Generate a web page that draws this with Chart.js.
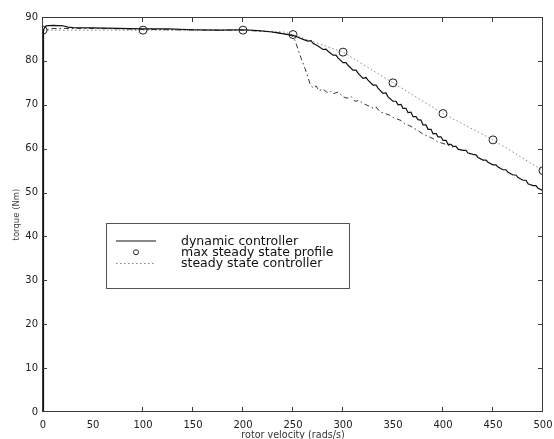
<!DOCTYPE html>
<html>
<head>
<meta charset="utf-8">
<script src="https://cdn.jsdelivr.net/npm/chart.js@4.4.1/dist/chart.umd.min.js"></script>
<style>
html,body{margin:0;padding:0;background:#fff;}
canvas{display:block;}
</style>
</head>
<body>
<canvas id="c" width="554" height="439"></canvas>
<script>
// ---- data ----
const seriesLabels = ['dynamic controller', 'max steady state profile', 'steady state controller'];
const xAxisTitle = 'rotor velocity (rads/s)';
const yAxisTitle = 'torque (Nm)';

const dynamicX = [
  0, 0.5, 3, 10, 20, 25, 30, 50, 75, 100,
  125, 150, 175, 200, 215, 225, 235, 245, 250, 255,
  260, 265, 268, 270, 275, 280, 283, 285, 290, 293,
  295, 300, 303, 305, 310, 313, 315, 320, 323, 325,
  330, 333, 335, 340, 343, 345, 350, 353, 355, 358,
  360, 363, 365, 368, 370, 373, 375, 378, 380, 383,
  385, 388, 390, 393, 395, 398, 400, 403, 405, 408,
  410, 413, 415, 420, 423, 425, 430, 433, 435, 440,
  443, 445, 450, 453, 455, 460, 463, 465, 470, 473,
  475, 480, 483, 485, 490, 493, 495, 500
];
const dynamicY = [
  0, 87.2, 88.0, 88.1, 88.0, 87.7, 87.6, 87.5, 87.4, 87.3,
  87.3, 87.1, 87.0, 87.1, 86.9, 86.7, 86.4, 86.0, 85.8, 85.4,
  84.9, 84.5, 84.6, 84.0, 83.4, 82.6, 82.7, 82.2, 81.3, 81.3,
  80.7, 79.6, 79.6, 79.0, 77.9, 77.9, 77.2, 76.0, 76.2, 75.6,
  74.5, 74.5, 73.8, 72.6, 72.7, 71.8, 70.8, 70.8, 70.0, 70.1,
  69.2, 69.2, 68.2, 68.3, 67.3, 67.3, 66.6, 66.5, 65.4, 65.4,
  64.4, 64.4, 63.4, 63.5, 62.7, 62.7, 61.9, 61.9, 61.0, 61.0,
  60.5, 60.5, 59.9, 59.6, 59.6, 59.0, 58.7, 58.6, 58.0, 57.4,
  57.4, 56.9, 56.3, 56.3, 55.8, 55.2, 55.2, 54.6, 54.0, 54.0,
  53.4, 52.8, 52.8, 52.0, 51.6, 51.6, 51.0, 50.4
];

const profileX = [0, 100, 200, 250, 300, 350, 400, 450, 500];
const profileY = [87, 87, 87, 86, 82, 75, 68, 62, 55];

const steadyX = [0, 50, 100, 150, 200, 240, 250, 300, 350, 400, 450, 500];
const steadyY = [87, 87, 87, 87, 87, 86.6, 86, 82, 75, 68, 62, 55];

const dashX = [
  0, 0.5, 10, 50, 100, 150, 200, 230, 245, 250,
  252, 257, 262, 267, 270, 273, 276, 280, 284, 287,
  290, 295, 300, 304, 308, 312, 316, 320, 325, 330,
  333, 337, 342, 346, 350, 354, 358, 362, 366, 370,
  375, 380, 385, 390, 395, 400, 405, 410
];
const dashY = [
  49, 87.0, 87.4, 87.4, 87.2, 87.0, 87.0, 86.6, 86.0, 85.6,
  84.7, 81.3, 78.3, 74.8, 73.8, 74.3, 73.2, 73.6, 72.8, 73.2,
  72.5, 72.9, 71.8, 71.5, 71.9, 70.8, 71.0, 70.3, 69.8, 69.2,
  69.5, 68.4, 68.0, 67.7, 67.1, 66.8, 66.4, 65.6, 65.3, 64.8,
  64.1, 63.3, 62.8, 62.3, 61.5, 61.2, 60.8, 60.3
];

const xTickMarks = [100, 150, 200, 250, 300, 400, 450];
const yTickMarks = [10, 20, 30, 40, 50, 60, 70, 80];

// ---- build ----
const pts = (xs, ys) => xs.map((x, i) => ({x: x, y: ys[i]}));
const FONT = '"DejaVu Sans", "Liberation Sans", Arial, sans-serif';

const frameTicks = {
  id: 'frameTicks',
  afterDatasetsDraw(chart) {
    const {ctx, chartArea: a, scales: {x, y}} = chart;
    ctx.save();
    ctx.strokeStyle = '#3a3a3a';
    ctx.lineWidth = 1;
    const L = Math.round(a.left) - 0.5, R = Math.round(a.right) - 0.5;
    const T = Math.round(a.top) + 0.5, B = Math.round(a.bottom) - 0.5;
    ctx.strokeRect(L, T, R - L, B - T);
    const len = 4.5;
    ctx.beginPath();
    xTickMarks.forEach(v => {
      const px = Math.round(x.getPixelForValue(v)) - 0.5;
      ctx.moveTo(px, B); ctx.lineTo(px, B - len);
      ctx.moveTo(px, T); ctx.lineTo(px, T + len);
    });
    yTickMarks.forEach(v => {
      const py = Math.round(y.getPixelForValue(v)) + 0.5;
      ctx.moveTo(L, py); ctx.lineTo(L + len, py);
      ctx.moveTo(R, py); ctx.lineTo(R - len, py);
    });
    ctx.stroke();
    ctx.restore();
  }
};

const boxLegend = {
  id: 'boxLegend',
  afterDraw(chart) {
    const ctx = chart.ctx;
    const ds = chart.data.datasets;
    const bx = 106.5, by = 223.5, bw = 243, bh = 65;
    ctx.save();
    ctx.fillStyle = '#fff';
    ctx.fillRect(bx, by, bw, bh);
    ctx.strokeStyle = '#555';
    ctx.lineWidth = 1;
    ctx.strokeRect(bx, by, bw, bh);
    const rows = [241, 252.3, 263.5];
    const sx0 = 116, sx1 = 156;
    ctx.font = '12.5px ' + FONT;
    ctx.fillStyle = '#111';
    ctx.textBaseline = 'middle';
    ctx.textAlign = 'left';
    for (let i = 0; i < 3; i++) {
      const d = ds[i];
      const yy = rows[i];
      ctx.save();
      if (d.showLine === false) {
        ctx.strokeStyle = d.borderColor;
        ctx.lineWidth = 1;
        ctx.beginPath();
        ctx.arc((sx0 + sx1) / 2, yy, 2.5, 0, Math.PI * 2);
        ctx.stroke();
      } else {
        ctx.strokeStyle = d.borderColor;
        ctx.lineWidth = d.borderWidth;
        ctx.setLineDash(d.borderDash || []);
        ctx.beginPath();
        ctx.moveTo(sx0, yy); ctx.lineTo(sx1, yy);
        ctx.stroke();
      }
      ctx.restore();
      ctx.fillText(d.label, 181, yy + 0.5);
    }
    ctx.restore();
  }
};

new Chart(document.getElementById('c'), {
  type: 'line',
  data: {
    datasets: [
      {
        label: seriesLabels[0],
        data: pts(dynamicX, dynamicY),
        borderColor: '#111',
        borderWidth: 1.2,
        pointRadius: 0,
        tension: 0,
        fill: false
      },
      {
        label: seriesLabels[1],
        data: pts(profileX, profileY),
        showLine: false,
        borderColor: '#222',
        backgroundColor: 'rgba(0,0,0,0)',
        pointStyle: 'circle',
        pointRadius: 4,
        pointBorderWidth: 1,
        pointBackgroundColor: 'rgba(0,0,0,0)',
        pointBorderColor: '#222'
      },
      {
        label: seriesLabels[2],
        data: pts(steadyX, steadyY),
        borderColor: '#8a8a8a',
        borderWidth: 1,
        borderDash: [1.5, 2.5],
        pointRadius: 0,
        tension: 0,
        fill: false
      },
      {
        label: '',
        data: pts(dashX, dashY),
        borderColor: '#333',
        borderWidth: 1,
        borderDash: [5, 3, 1.5, 3],
        pointRadius: 0,
        tension: 0,
        fill: false
      }
    ]
  },
  options: {
    responsive: false,
    animation: false,
    devicePixelRatio: 1,
    layout: {padding: {top: 17, right: 11, left: 0, bottom: 0}},
    plugins: {legend: {display: false}, tooltip: {enabled: false}},
    scales: {
      x: {
        type: 'linear',
        min: 0, max: 500,
        afterFit: s => { s.height = 27; s.paddingLeft = 0; s.paddingRight = 0; },
        grid: {display: false, drawTicks: false},
        border: {display: false},
        ticks: {stepSize: 50, padding: 7, color: '#222', font: {family: FONT, size: 10}, maxRotation: 0},
        title: {display: true, text: xAxisTitle, color: '#333', font: {family: FONT, size: 9.6}, padding: {top: 2, bottom: -2}}
      },
      y: {
        type: 'linear',
        min: 0, max: 90,
        afterFit: s => { s.width = 43; s.paddingTop = 0; s.paddingBottom = 0; },
        grid: {display: false, drawTicks: false},
        border: {display: false},
        ticks: {stepSize: 10, padding: 5, color: '#222', font: {family: FONT, size: 10}},
        title: {display: true, text: yAxisTitle, color: '#444', font: {family: FONT, size: 8.5}, padding: {top: 12, bottom: 0}}
      }
    }
  },
  plugins: [frameTicks, boxLegend]
});
</script>
</body>
</html>
